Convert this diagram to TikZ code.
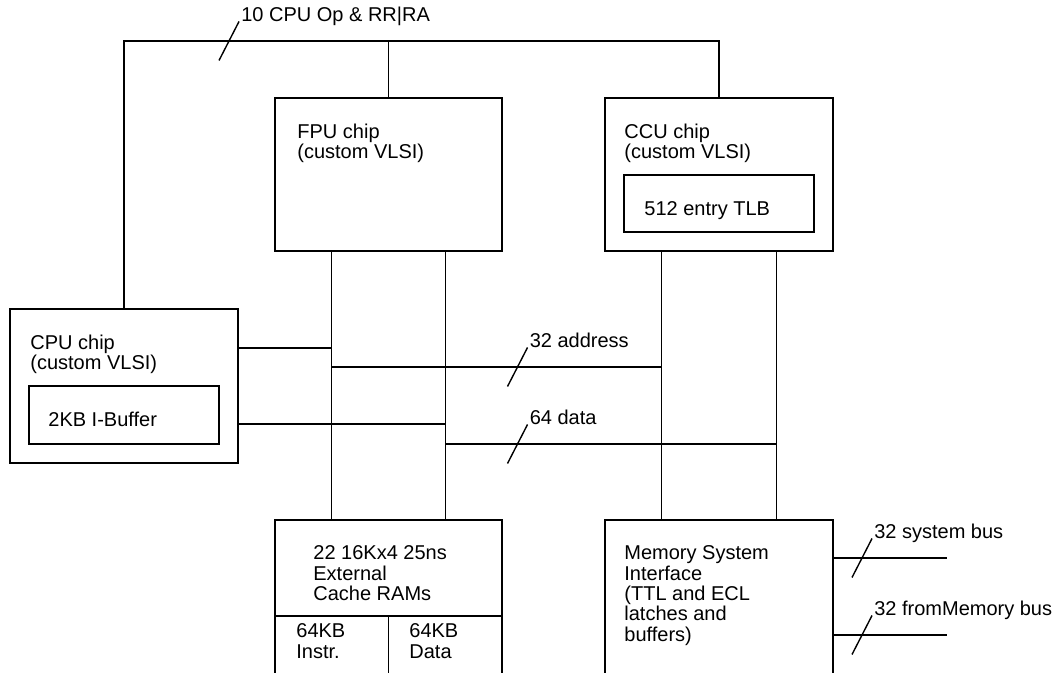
\documentclass[tikz,border=0pt]{standalone}
\usepackage{fontspec}
\setmainfont{Liberation Sans}
\usetikzlibrary{calc,positioning}

\tikzset{
  chip/.style={draw, rectangle, line width=0.7pt, inner sep=0pt},
  wire/.style={line width=0.7pt},
  txt/.style={anchor=north west, inner sep=0pt, align=left, font=\fontsize{10}{10.2}\selectfont},
  onetxt/.style={anchor=base west, inner sep=0pt, font=\fontsize{10}{10.2}\selectfont},
}

% bus width mark: slash across a wire, label at its top end
\newcommand{\busmark}[3]{%
  \draw[wire] (#1,#2) ++(-10,19.5) -- ++(20,-39)
    node[onetxt, xshift=0.8pt] {#3};}

\begin{document}
\begin{tikzpicture}[x=0.5pt, y=-0.5pt]
  \useasboundingbox (0,0) rectangle (1058,673);
  \clip (0,0) rectangle (1058,673);

  % Chips
  \node[chip, minimum width=114pt, minimum height=77pt] (cpu) at (124,386) {};
  \node[chip, minimum width=95pt, minimum height=29pt] (ibuf) at (124,415) {};
  \node[chip, minimum width=113.5pt, minimum height=76.5pt] (fpu) at (388.5,174.5) {};
  \node[chip, minimum width=114pt, minimum height=76.5pt] (ccu) at (719,174.5) {};
  \node[chip, minimum width=95pt, minimum height=28.5pt] (tlb) at (719,203.5) {};
  \node[chip, minimum width=113.5pt, minimum height=100pt] (cache) at (388.5,620) {};
  \node[chip, minimum width=114pt, minimum height=100pt] (mem) at (719,620) {};

  % Chip texts
  \node[txt] (cputxt) at (30,334.4) {CPU chip\\(custom VLSI)};
  \node[onetxt] (ibuftxt) at (48,426) {2KB I-Buffer};
  \node[txt] (fputxt) at (297,123.4) {FPU chip\\(custom VLSI)};
  \node[txt] (ccutxt) at (624,123.4) {CCU chip\\(custom VLSI)};
  \node[onetxt] (tlbtxt) at (644,216) {512 entry TLB};
  \node[txt] (cachetxt) at (313,545.4) {22 16Kx4 25ns\\External\\Cache RAMs};
  \node[txt] (itxt) at (296,623.4) {64KB\\Instr.};
  \node[txt] (dtxt) at (409,623.4) {64KB\\Data};
  \node[txt] (memtxt) at (624,545.4) {Memory System\\Interface\\(TTL and ECL\\latches and\\buffers)};

  % Cache split
  \coordinate (split) at (0,616);
  \draw[wire] (cache.west |- split) -- (cache.east |- split);
  \draw[wire] (cache.north |- split) -- (cache.south);

  % Top bus
  \coordinate (topbus) at (0,41);
  \draw[wire] (cpu.north) |- (topbus -| ccu.north) -- (ccu.north);
  \draw[wire] (fpu.north) -- (fpu.north |- topbus);

  % Address and data lines
  \coordinate (fadr) at ($(fpu.south west)!0.25!(fpu.south east)$);
  \coordinate (fdat) at ($(fpu.south west)!0.75!(fpu.south east)$);
  \coordinate (cadr) at ($(ccu.south west)!0.25!(ccu.south east)$);
  \coordinate (cdat) at ($(ccu.south west)!0.75!(ccu.south east)$);
  \draw[wire] (fadr) -- (fadr |- cache.north);
  \draw[wire] (fdat) -- (fdat |- cache.north);
  \draw[wire] (cadr) -- (cadr |- mem.north);
  \draw[wire] (cdat) -- (cdat |- mem.north);

  \coordinate (cpuadr) at ($(cpu.east)+(0,-38)$);
  \coordinate (cpudat) at ($(cpu.east)+(0,38)$);
  \draw[wire] (cpuadr) -- (cpuadr -| fadr);
  \draw[wire] (cpudat) -- (cpudat -| fdat);

  \coordinate (adrbus) at (0,367);
  \coordinate (datbus) at (0,444);
  \draw[wire] (adrbus -| fadr) -- (adrbus -| cadr);
  \draw[wire] (datbus -| fdat) -- (datbus -| cdat);

  % Outside buses
  \coordinate (sysbus) at (947,558);
  \coordinate (frombus) at (947,635);
  \draw[wire] (sysbus -| mem.east) -- (sysbus);
  \draw[wire] (frombus -| mem.east) -- (frombus);

  % Bus widths
  \busmark{229}{41}{10 CPU Op \& RR|RA}
  \busmark{517.5}{367}{32 address}
  \busmark{517.5}{444}{64 data}
  \busmark{862}{558}{32 system bus}
  \busmark{862}{635}{32 fromMemory bus}

\end{tikzpicture}
\end{document}
